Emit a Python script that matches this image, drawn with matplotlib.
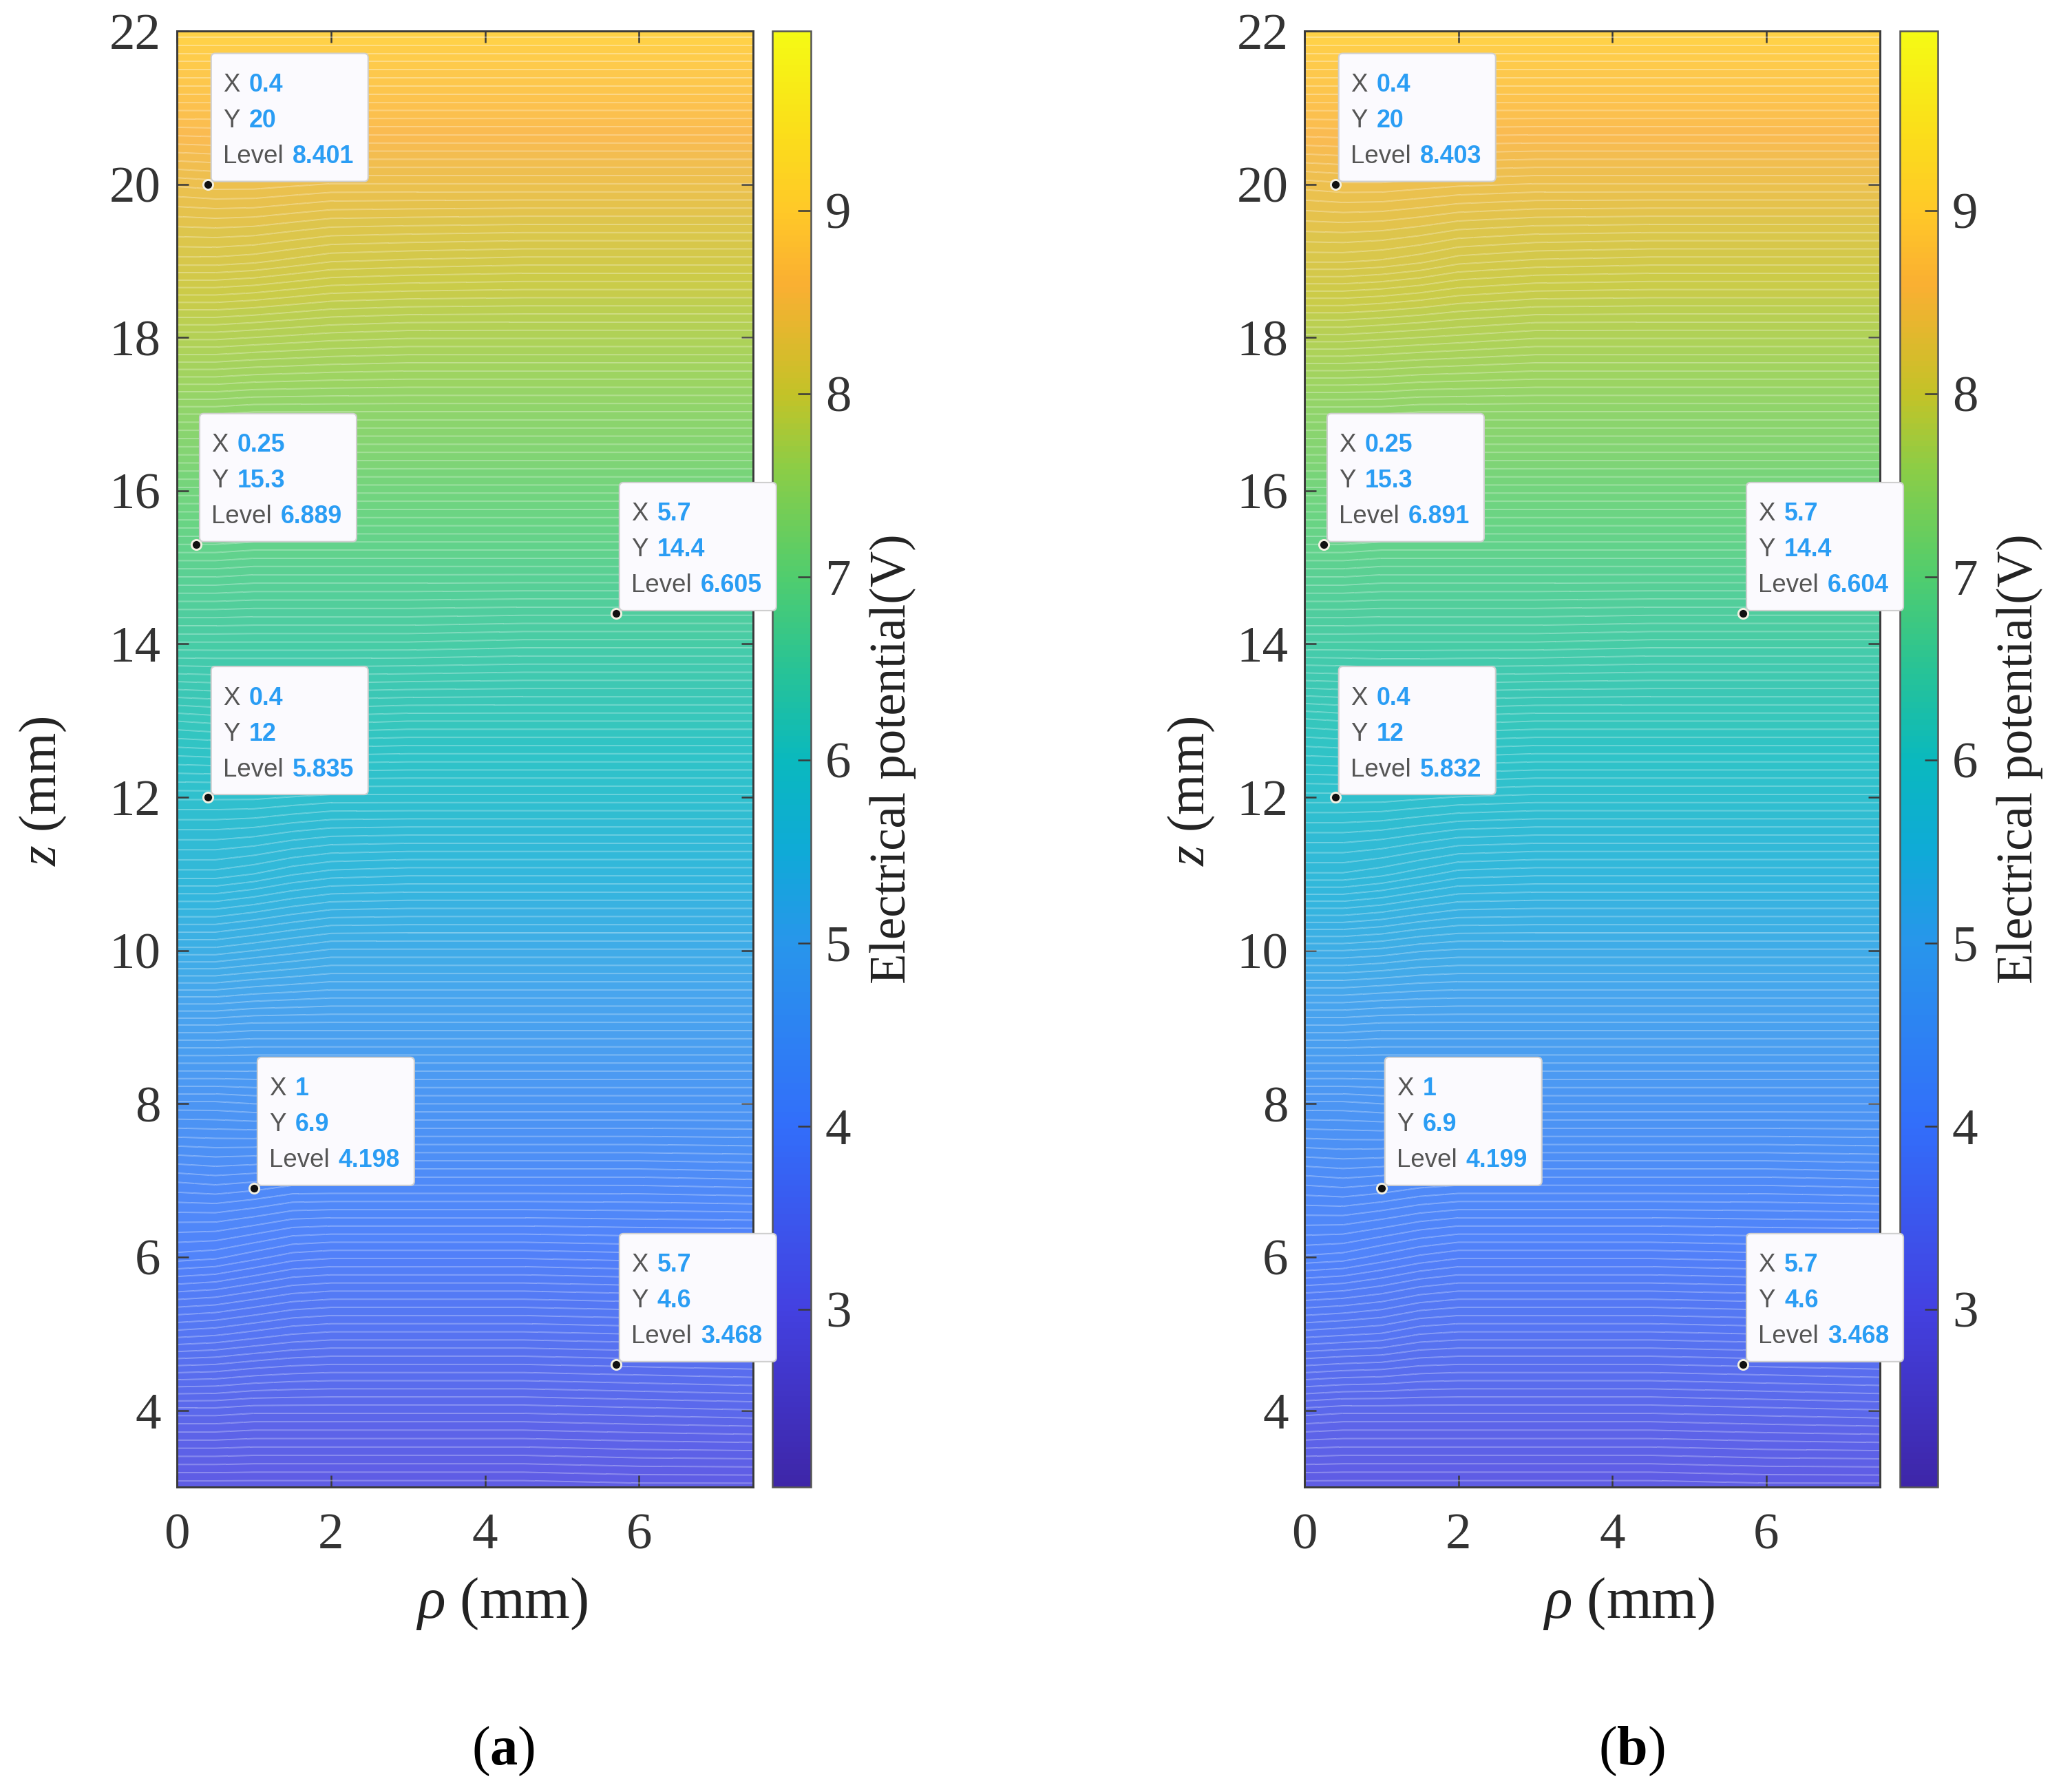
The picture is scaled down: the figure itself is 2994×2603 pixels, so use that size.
import matplotlib
matplotlib.use("Agg")
import matplotlib.pyplot as plt
import numpy as np
from matplotlib.colors import LinearSegmentedColormap, Normalize
from matplotlib.cm import ScalarMappable
from matplotlib.patches import FancyBboxPatch
from matplotlib.transforms import IdentityTransform

plt.rcParams['font.family'] = ['Liberation Serif', 'DejaVu Serif']
plt.rcParams['mathtext.fontset'] = 'custom'
plt.rcParams['mathtext.rm'] = 'Liberation Serif'
plt.rcParams['mathtext.it'] = 'Liberation Serif:italic'
plt.rcParams['mathtext.bf'] = 'Liberation Serif:bold'

# grid
rho = [0, 0.5, 1, 1.5, 2, 3, 4.5, 6, 7.5]
z = [3, 4, 5, 6, 7, 8, 9, 10, 11, 12, 13, 14, 15, 16, 17, 18, 19, 20, 21, 22]

potential_a = [
    [2.96, 2.96, 2.96, 2.96, 2.96, 2.96, 2.96, 2.97, 2.97],
    [3.28, 3.28, 3.27, 3.27, 3.27, 3.27, 3.27, 3.28, 3.29],
    [3.65, 3.64, 3.62, 3.60, 3.59, 3.59, 3.59, 3.60, 3.61],
    [3.99, 3.98, 3.95, 3.92, 3.91, 3.91, 3.91, 3.92, 3.92],
    [4.25, 4.26, 4.25, 4.23, 4.23, 4.23, 4.23, 4.23, 4.24],
    [4.54, 4.54, 4.55, 4.55, 4.55, 4.55, 4.55, 4.55, 4.55],
    [4.88, 4.88, 4.87, 4.87, 4.87, 4.87, 4.87, 4.87, 4.87],
    [5.25, 5.25, 5.23, 5.21, 5.19, 5.19, 5.19, 5.19, 5.19],
    [5.59, 5.59, 5.57, 5.54, 5.52, 5.51, 5.51, 5.51, 5.51],
    [5.85, 5.85, 5.85, 5.84, 5.83, 5.83, 5.83, 5.83, 5.83],
    [6.15, 6.16, 6.16, 6.16, 6.16, 6.15, 6.15, 6.15, 6.15],
    [6.48, 6.48, 6.48, 6.48, 6.48, 6.48, 6.47, 6.47, 6.47],
    [6.80, 6.80, 6.79, 6.79, 6.79, 6.79, 6.79, 6.79, 6.79],
    [7.12, 7.12, 7.11, 7.11, 7.11, 7.11, 7.11, 7.11, 7.11],
    [7.44, 7.44, 7.43, 7.43, 7.43, 7.43, 7.43, 7.43, 7.43],
    [7.79, 7.79, 7.78, 7.77, 7.76, 7.75, 7.75, 7.75, 7.75],
    [8.14, 8.14, 8.13, 8.11, 8.09, 8.08, 8.07, 8.07, 8.07],
    [8.40, 8.41, 8.41, 8.40, 8.39, 8.39, 8.39, 8.39, 8.39],
    [8.71, 8.71, 8.71, 8.71, 8.71, 8.71, 8.71, 8.71, 8.71],
    [9.03, 9.03, 9.03, 9.03, 9.03, 9.03, 9.03, 9.03, 9.03],
]
potential_b = [
    [2.96, 2.96, 2.96, 2.96, 2.96, 2.96, 2.96, 2.97, 2.97],
    [3.28, 3.27, 3.27, 3.27, 3.27, 3.27, 3.27, 3.28, 3.29],
    [3.65, 3.64, 3.63, 3.60, 3.59, 3.59, 3.59, 3.60, 3.61],
    [4.00, 3.99, 3.96, 3.93, 3.91, 3.91, 3.91, 3.92, 3.92],
    [4.26, 4.27, 4.26, 4.24, 4.23, 4.23, 4.23, 4.23, 4.24],
    [4.54, 4.54, 4.55, 4.55, 4.55, 4.55, 4.55, 4.55, 4.55],
    [4.88, 4.88, 4.87, 4.87, 4.87, 4.87, 4.87, 4.87, 4.87],
    [5.23, 5.23, 5.22, 5.20, 5.19, 5.19, 5.19, 5.19, 5.19],
    [5.60, 5.60, 5.58, 5.55, 5.52, 5.51, 5.51, 5.51, 5.51],
    [5.86, 5.86, 5.86, 5.85, 5.84, 5.83, 5.83, 5.83, 5.83],
    [6.14, 6.15, 6.17, 6.17, 6.16, 6.15, 6.15, 6.15, 6.15],
    [6.48, 6.48, 6.48, 6.48, 6.48, 6.48, 6.47, 6.47, 6.47],
    [6.80, 6.80, 6.79, 6.79, 6.79, 6.79, 6.79, 6.79, 6.79],
    [7.12, 7.12, 7.11, 7.11, 7.11, 7.11, 7.11, 7.11, 7.11],
    [7.44, 7.44, 7.44, 7.43, 7.43, 7.43, 7.43, 7.43, 7.43],
    [7.80, 7.80, 7.79, 7.78, 7.77, 7.75, 7.75, 7.75, 7.75],
    [8.16, 8.16, 8.15, 8.13, 8.10, 8.08, 8.07, 8.07, 8.07],
    [8.41, 8.42, 8.42, 8.41, 8.40, 8.39, 8.39, 8.39, 8.39],
    [8.71, 8.71, 8.71, 8.71, 8.71, 8.71, 8.71, 8.71, 8.71],
    [9.03, 9.03, 9.03, 9.03, 9.03, 9.03, 9.03, 9.03, 9.03],
]

# data tips
tip_x = [0.4, 0.25, 5.7, 0.4, 1, 5.7]
tip_y = [20, 15.3, 14.4, 12, 6.9, 4.6]
tip_level_a = ['8.401', '6.889', '6.605', '5.835', '4.198', '3.468']
tip_level_b = ['8.403', '6.891', '6.604', '5.832', '4.199', '3.468']

# colour bar read at these potentials
cbar_v = [2.03, 3, 4, 5, 5.5, 6, 6.5, 7, 7.6, 8, 8.6, 9, 9.5, 9.98]
cbar_colours = ['#3E26A8', '#4341E1', '#326EFA', '#2896EB', '#0FAAD7', '#0AB9BE', '#28C396',
                '#50CD6E', '#8CCD46', '#C3C328', '#FAAF32', '#FFC828', '#FAE119', '#F5FA14']

norm = Normalize(2.03, 9.98)
cmap = LinearSegmentedColormap.from_list(
    'parula', [(float(norm(v)), c) for v, c in zip(cbar_v, cbar_colours)], N=256)
levels = np.arange(2.0, 10.0, 0.034)
dark = '#3a3a3a'

fig = plt.figure(figsize=(9.98, 8.677), dpi=300)
W, H = 2994.0, 2603.0


def pixbox(l, t, r, b):
    return [l / W, 1 - b / H, (r - l) / W, (b - t) / H]


def datatip(ax, x, y, level):
    px, py = ax.transData.transform((x, y))
    l, b = px + 5, py + 4
    w, h = 228, 186
    box = FancyBboxPatch((l + 4, b + 4), w - 8, h - 8, boxstyle='round,pad=4,rounding_size=6',
                         fc='#FBFAFE', ec='#cfcfcf', lw=0.5, transform=IdentityTransform(), zorder=6)
    fig.add_artist(box)
    rows = [('X', str(x), 38), ('Y', str(y), 38), ('Level', level, 101)]
    for row, (name, val, off) in zip([140, 88, 36], rows):
        fig.text((l + 17) / W, (b + row) / H, name, color='#555555', fontsize=8.8,
                 family='Liberation Sans', va='center', zorder=7)
        fig.text((l + 17 + off) / W, (b + row) / H, val, color='#2A9DF4', fontsize=8.6,
                 family='Liberation Sans', weight='bold', va='center', zorder=7)
    ax.plot([x], [y], 'o', ms=3.4, mfc='#111111', mec='#f4f1e2', mew=0.7, clip_on=False, zorder=8)


def panel(axrect, caxrect, values, tip_level, name, ylabel_x, caption_x):
    ax = fig.add_axes(pixbox(*axrect))
    ax.contourf(rho, z, np.array(values), levels=levels, cmap=cmap, norm=norm, alpha=0.85)
    ax.contour(rho, z, np.array(values), levels=levels, colors='white', linewidths=0.45, alpha=0.35)
    ax.set_xlim(0, 7.48)
    ax.set_ylim(3, 22)
    ax.set_xticks([0, 2, 4, 6])
    ax.set_yticks([4, 6, 8, 10, 12, 14, 16, 18, 20, 22])
    ax.tick_params(direction='in', top=True, right=True, length=4, width=0.6, color=dark,
                   labelsize=18, labelcolor='#333333')
    ax.tick_params(axis='y', pad=5.6)
    ax.tick_params(axis='x', pad=9)
    for s in ax.spines.values():
        s.set_linewidth(0.7)
        s.set_color(dark)
    ax.set_xlabel(r'$\rho$ (mm)', fontsize=20.3, color='#222222', va='center')
    ax.xaxis.set_label_coords(0.564, -0.0804)
    ax.set_ylabel(r'$z$ (mm)', fontsize=18.3, color='#222222', va='center')
    ax.yaxis.set_label_coords(ylabel_x, 0.478)

    cax = fig.add_axes(pixbox(*caxrect))
    cb = fig.colorbar(ScalarMappable(norm=norm, cmap=cmap), cax=cax)
    cb.set_ticks([3, 4, 5, 6, 7, 8, 9])
    cb.ax.tick_params(direction='in', length=4.5, width=0.6, color=dark, labelsize=18,
                      labelcolor='#333333', pad=5)
    cb.outline.set_linewidth(0.6)
    cb.outline.set_edgecolor('#555555')
    cb.set_label('Electrical potential(V)', fontsize=17.5, color='#222222', labelpad=6.5)

    for x, y, lev in zip(tip_x, tip_y, tip_level):
        datatip(ax, x, y, lev)

    fig.text(caption_x / W, 1 - 2544 / H, '(' + r'$\mathbf{' + name + '}$' + ')',
             fontsize=19.3, ha='center', va='center', color='black')


panel((257, 45, 1094, 2160), (1122, 45, 1178, 2160), potential_a, tip_level_a, 'a', -0.233, 731)
panel((1895, 45, 2731, 2160), (2760, 45, 2815, 2160), potential_b, tip_level_b, 'b', -0.197, 2370)

fig.savefig('out.png', dpi=300)
